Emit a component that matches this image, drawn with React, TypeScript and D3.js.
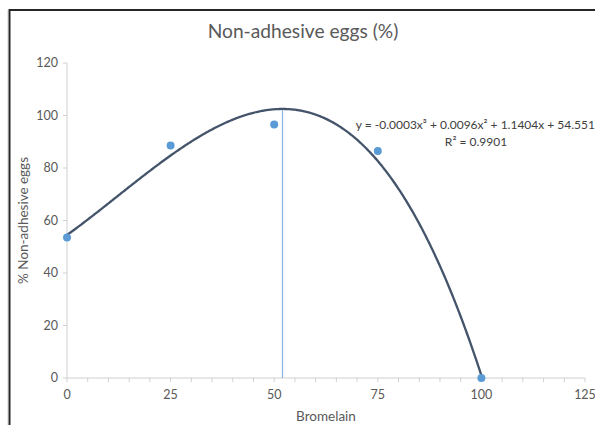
import React from "react";
import * as d3 from "d3";

const xValues = [0, 25, 50, 75, 100];
const yValues = [53.5, 88.6, 96.6, 86.5, 0];
const xTicks = [0, 25, 50, 75, 100, 125];
const yTicks = [0, 20, 40, 60, 80, 100, 120];
const titleText = "Non-adhesive eggs (%)";
const xTitle = "Bromelain";
const yTitle = "% Non-adhesive eggs";
const eqText = "y = -0.0003x³ + 0.0096x² + 1.1404x + 54.551";
const r2Text = "R² = 0.9901";

function solve(A: number[][], b: number[]): number[] {
  const n = b.length;
  const M = A.map((r, i) => [...r, b[i]]);
  for (let i = 0; i < n; i++) {
    let p = i;
    for (let k = i + 1; k < n; k++) if (Math.abs(M[k][i]) > Math.abs(M[p][i])) p = k;
    [M[i], M[p]] = [M[p], M[i]];
    for (let k = i + 1; k < n; k++) {
      const f = M[k][i] / M[i][i];
      for (let j = i; j <= n; j++) M[k][j] -= f * M[i][j];
    }
  }
  const x = new Array(n).fill(0);
  for (let i = n - 1; i >= 0; i--) {
    let s = M[i][n];
    for (let j = i + 1; j < n; j++) s -= M[i][j] * x[j];
    x[i] = s / M[i][i];
  }
  return x;
}

function fitCubic(xs: number[], ys: number[]) {
  const deg = 3;
  const A: number[][] = [];
  const b: number[] = [];
  for (let i = 0; i <= deg; i++) {
    A.push([]);
    for (let j = 0; j <= deg; j++) A[i].push(d3.sum(xs, (x) => Math.pow(x, i + j)));
    b.push(d3.sum(xs, (x, k) => Math.pow(x, i) * ys[k]));
  }
  const c = solve(A, b);
  return (x: number) => c[0] + c[1] * x + c[2] * x * x + c[3] * x * x * x;
}

export default function App() {
  const W = 595, H = 425;
  const x = d3.scaleLinear().domain([0, 125]).range([67, 585]);
  const y = d3.scaleLinear().domain([0, 120]).range([378, 63]);
  const f = fitCubic(xValues, yValues);
  const xMin = d3.min(xValues)!, xMax = d3.max(xValues)!;
  const samples = d3.range(0, 401).map((i) => xMin + (xMax - xMin) * i / 400);
  const line = d3.line<number>().x((d) => x(d)).y((d) => y(f(d))).curve(d3.curveLinear);
  const peakX = samples.reduce((a, b) => (f(b) > f(a) ? b : a), samples[0]);
  const minorTicks = d3.range(0, 126, 5);
  const font = "Lato, 'Open Sans', sans-serif";
  const tc = "#595959";
  return (
    <svg width={W} height={H} style={{ position: "absolute", left: 0, top: 0, background: "#fff" }}>
      <rect x={0} y={0} width={W} height={H} fill="#fff" />
      <line x1={7.5} y1={10} x2={7.5} y2={H} stroke="#e6e6e6" strokeWidth={1} />
      <rect x={9.5} y={10} width={W + 10} height={H + 10} fill="none" stroke="#262626" strokeWidth={2} />
      <text x={303} y={38} textAnchor="middle" fontFamily={font} fontSize={19.2} fill={tc}>{titleText}</text>
      {/* axes */}
      <line x1={x(0)} y1={y(0)} x2={x(125)} y2={y(0)} stroke="#d0d0d0" strokeWidth={1} />
      <line x1={x(0)} y1={y(0)} x2={x(0)} y2={y(120)} stroke="#d0d0d0" strokeWidth={1} />
      {minorTicks.map((t) => (
        <line key={"mx" + t} x1={x(t)} x2={x(t)} y1={y(0)} y2={y(0) + 4} stroke="#d0d0d0" />
      ))}
      {yTicks.map((t) => (
        <g key={"y" + t}>
          <line x1={x(0) - 4} x2={x(0)} y1={y(t)} y2={y(t)} stroke="#d0d0d0" />
          <text x={x(0) - 9} y={y(t) + 4} textAnchor="end" fontFamily={font} fontSize={12.5} fill={tc}>{t}</text>
        </g>
      ))}
      {xTicks.map((t) => (
        <text key={"x" + t} x={x(t)} y={y(0) + 21} textAnchor="middle" fontFamily={font} fontSize={12.5} fill={tc}>{t}</text>
      ))}
      <text x={326} y={421} textAnchor="middle" fontFamily={font} fontSize={13.5} fill={tc}>{xTitle}</text>
      <text transform={`translate(28,${y(60)}) rotate(-90)`} textAnchor="middle" fontFamily={font} fontSize={13.5} fill={tc}>{yTitle}</text>
      {/* peak line */}
      <line x1={x(peakX)} x2={x(peakX)} y1={y(0)} y2={y(f(peakX))} stroke="#8fb8e0" strokeWidth={1.3} />
      {/* trendline */}
      <path d={line(samples) || ""} fill="none" stroke="#44546a" strokeWidth={2.3} />
      {xValues.map((v, i) => (
        <circle key={"p" + i} cx={x(v)} cy={y(yValues[i])} r={4} fill="#5b9bd5" />
      ))}
      <text x={595} y={129} textAnchor="end" fontFamily={font} fontSize={12} fill="#404040">{eqText}</text>
      <text x={476} y={146} textAnchor="middle" fontFamily={font} fontSize={12} fill="#404040">{r2Text}</text>
    </svg>
  );
}
